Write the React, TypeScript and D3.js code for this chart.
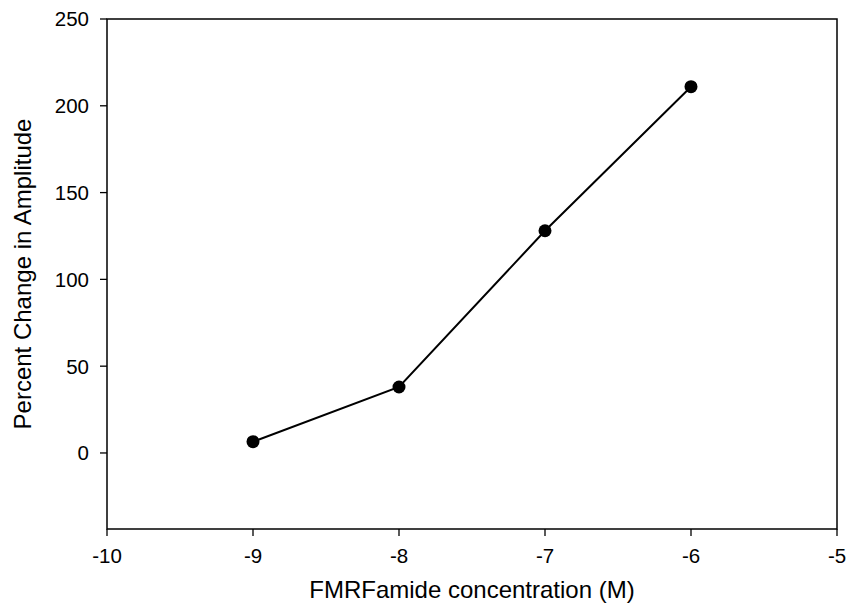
import React from "react";
import * as d3 from "d3";

const concentrations = [-9, -8, -7, -6];
const percentChange = [6.5, 38, 128, 211];
const xTicks = [-10, -9, -8, -7, -6, -5];
const yTicks = [0, 50, 100, 150, 200, 250];

const W = 852;
const H = 613;
const M = { left: 107, right: 837, top: 19, bottom: 529 };
const FONT = "Arial, 'Liberation Sans', Helvetica, sans-serif";

export default function App() {
  const x = d3.scaleLinear().domain([-10, -5]).range([M.left, M.right]);
  const y = d3.scaleLinear().domain([-43.8, 250]).range([M.bottom, M.top]);
  const pts = concentrations.map((c, i) => [c, percentChange[i]] as [number, number]);
  const line = d3.line<[number, number]>().x((d) => x(d[0])).y((d) => y(d[1]));

  return (
    <svg width={W} height={H} style={{ position: "absolute", left: 0, top: 0, background: "#fff" }}>
      <rect x={0} y={0} width={W} height={H} fill="#fff" />
      <rect
        x={M.left}
        y={M.top}
        width={M.right - M.left}
        height={M.bottom - M.top}
        fill="none"
        stroke="#000"
        strokeWidth={1.5}
      />
      {yTicks.map((t) => (
        <g key={"y" + t}>
          <line x1={M.left - 7} x2={M.left} y1={y(t)} y2={y(t)} stroke="#000" strokeWidth={1.3} />
          <text
            x={89}
            y={y(t)}
            dy="0.36em"
            textAnchor="end"
            fontFamily={FONT}
            fontSize={20.5}
            fill="#000"
          >
            {t}
          </text>
        </g>
      ))}
      {xTicks.map((t) => (
        <g key={"x" + t}>
          <line x1={x(t)} x2={x(t)} y1={M.bottom} y2={M.bottom + 7} stroke="#000" strokeWidth={1.3} />
          <text x={x(t)} y={563} textAnchor="middle" fontFamily={FONT} fontSize={20.5} fill="#000">
            {t}
          </text>
        </g>
      ))}
      <path d={line(pts) || ""} fill="none" stroke="#000" strokeWidth={2} />
      {pts.map((p, i) => (
        <circle key={i} cx={x(p[0])} cy={y(p[1])} r={6.5} fill="#000" />
      ))}
      <text
        x={(M.left + M.right) / 2}
        y={598}
        textAnchor="middle"
        fontFamily={FONT}
        fontSize={24}
        fill="#000"
      >
        FMRFamide concentration (M)
      </text>
      <text
        transform={`translate(31, ${(M.top + M.bottom) / 2}) rotate(-90)`}
        textAnchor="middle"
        fontFamily={FONT}
        fontSize={24}
        fill="#000"
      >
        Percent Change in Amplitude
      </text>
    </svg>
  );
}
